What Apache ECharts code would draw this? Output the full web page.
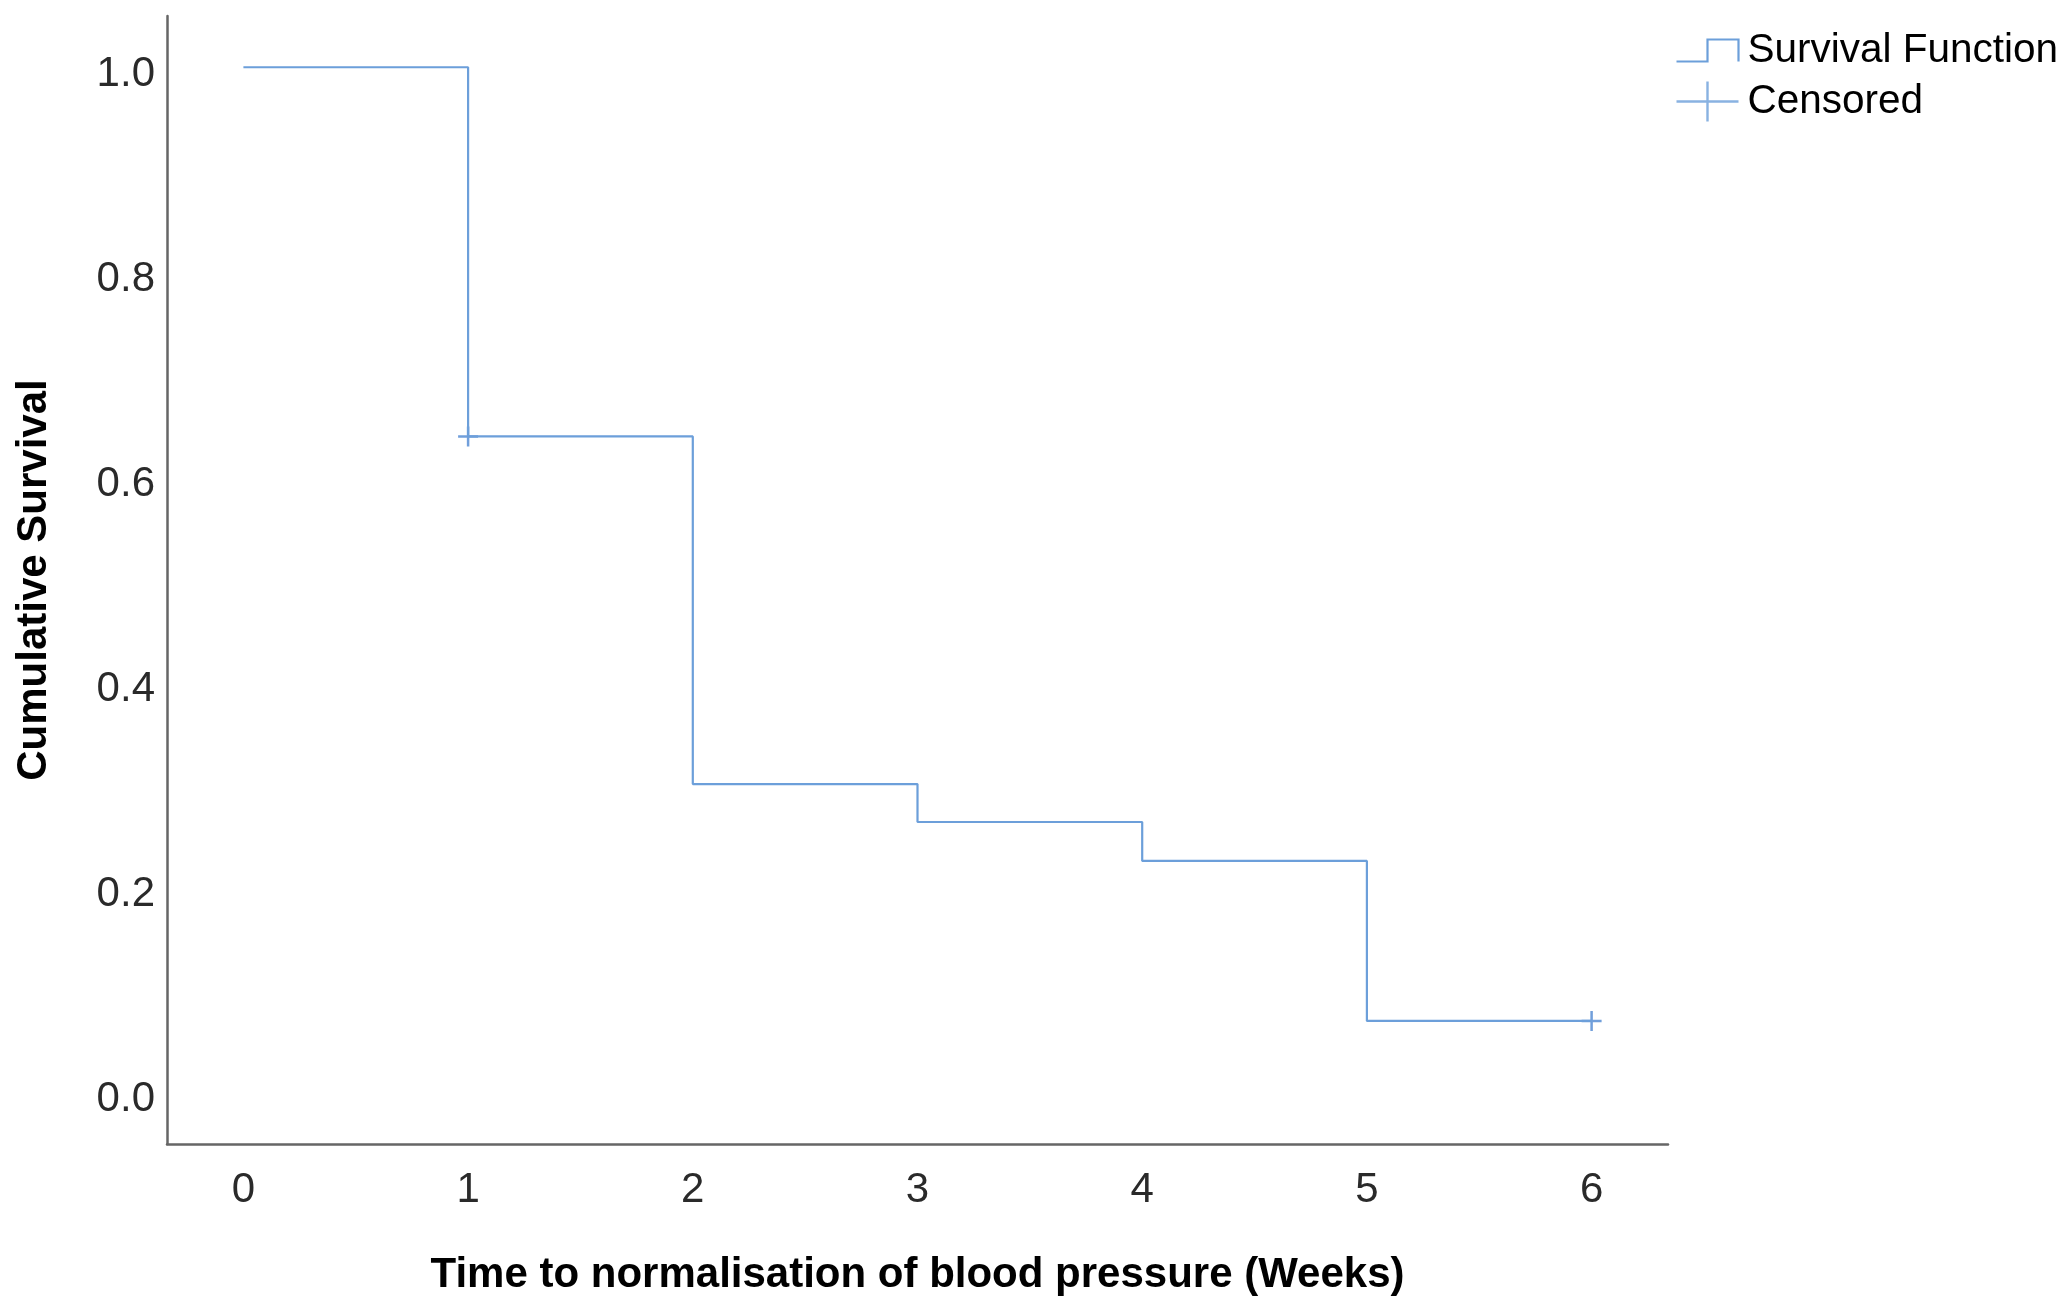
<!DOCTYPE html>
<html>
<head>
<meta charset="utf-8">
<script src="https://cdn.jsdelivr.net/npm/echarts@6/dist/echarts.min.js"></script>
<style>
  html, body { margin: 0; padding: 0; background: #fff; }
  #chart { width: 2068px; height: 1301px; }
</style>
</head>
<body>
<div id="chart"></div>
<script>
// Kaplan-Meier steps
const weeks = [0, 1, 2, 3, 4, 5, 6];
const survival = [1.0, 0.64, 0.301, 0.264, 0.226, 0.07, 0.07];
// censored marks
const censoredWeeks = [1, 6];
const censoredValues = [0.64, 0.07];
const xTicks = [0, 1, 2, 3, 4, 5, 6];
const yTicks = [0, 0.2, 0.4, 0.6, 0.8, 1.0];

const lineColor = '#6c9fda';
const markColor = '#4d87d2';
const font = 'Liberation Sans, Arial, sans-serif';

const chart = echarts.init(document.getElementById('chart'));

const option = {
  animation: false,
  backgroundColor: '#fff',
  grid: { left: 167, right: 400, top: 16, bottom: 155 },
  legend: [
    {
      left: 1669, top: 25,
      itemWidth: 62, itemHeight: 22,
      textStyle: { fontFamily: font, fontSize: 40.5, color: '#000', padding: [0, 0, 0, 4] },
      data: [{
        name: 'Survival Function',
        icon: 'path://M0 22 L31 22 L31 0 L62 0 L62 22',
        itemStyle: { color: 'none', borderColor: lineColor, borderWidth: 2.2 }
      }]
    },
    {
      left: 1669, top: 74,
      itemWidth: 62, itemHeight: 40,
      textStyle: { fontFamily: font, fontSize: 40.5, color: '#000', padding: [0, 0, 0, 4] },
      data: [{
        name: 'Censored',
        icon: 'path://M0 20 L62 20 M31 0 L31 40',
        itemStyle: { color: 'none', borderColor: lineColor, borderWidth: 2.4 }
      }]
    }
  ],
  xAxis: {
    type: 'value',
    min: -0.34,
    max: 6.34,
    name: 'Time to normalisation of blood pressure (Weeks)',
    nameLocation: 'middle',
    nameGap: 110,
    nameTextStyle: { fontFamily: font, fontSize: 42, fontWeight: 'bold', color: '#000' },
    axisLine: { show: true, onZero: false, lineStyle: { color: '#666', width: 2.5 } },
    axisTick: { show: false },
    splitLine: { show: false },
    axisLabel: {
      customValues: xTicks,
      margin: 25,
      fontFamily: font, fontSize: 42, color: '#2a2a2a',
      formatter: v => String(v)
    }
  },
  yAxis: {
    type: 'value',
    min: -0.05,
    max: 1.05,
    name: 'Cumulative Survival',
    nameLocation: 'middle',
    nameGap: 112,
    nameTextStyle: { fontFamily: font, fontSize: 42, fontWeight: 'bold', color: '#000' },
    axisLine: { show: true, onZero: false, lineStyle: { color: '#666', width: 2.5 } },
    axisTick: { show: false },
    splitLine: { show: false },
    axisLabel: {
      customValues: yTicks,
      margin: 12,
      verticalAlign: 'top',
      lineHeight: 14,
      fontFamily: font, fontSize: 42, color: '#2a2a2a',
      formatter: v => v.toFixed(1)
    }
  },
  series: [
    {
      name: 'Survival Function',
      type: 'line',
      step: 'end',
      showSymbol: false,
      data: weeks.map((w, i) => [w, survival[i]]),
      lineStyle: { color: lineColor, width: 2.2 },
      itemStyle: { color: lineColor }
    },
    {
      name: 'Censored',
      type: 'scatter',
      symbol: 'path://M0 10 L20 10 M10 0 L10 20',
      symbolSize: 20,
      data: censoredWeeks.map((w, i) => [w, censoredValues[i]]),
      itemStyle: { color: 'none', borderColor: markColor, borderWidth: 2.5 }
    }
  ]
};

chart.setOption(option);
</script>
</body>
</html>
